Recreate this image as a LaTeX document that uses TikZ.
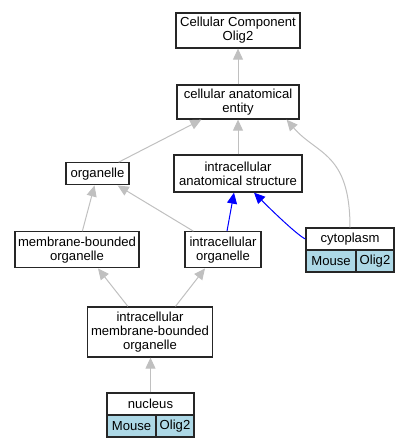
\documentclass[tikz,border=0pt]{standalone}
\usepackage{fontspec}
\setmainfont{Liberation Sans}
\usetikzlibrary{arrows.meta}
\definecolor{edgegrey}{HTML}{C0C0C0}
\definecolor{cellblue}{HTML}{ADD8E6}
\begin{document}
\begin{tikzpicture}[x=1pt,y=-1pt,
  box/.style={draw=black!85, line width=1.3pt, fill=white, inner sep=0pt, align=center, font=\fontsize{13.1}{14}\selectfont, text=black},
  cell/.style={box, fill=cellblue},
  gedge/.style={draw=edgegrey, line width=1pt, -{Triangle[length=11pt,width=10pt]}},
  bedge/.style={draw=blue, line width=1pt, -{Triangle[length=11pt,width=10pt]}}]
\useasboundingbox (0,0) rectangle (411,448);
\node[box, minimum width=124pt, minimum height=35pt] (cc) at (238,30.5) {Cellular Component\\Olig2};
\node[box, minimum width=122pt, minimum height=34pt] (cae) at (238,102) {cellular anatomical\\entity};
\node[box, minimum width=128pt, minimum height=37pt] (ias) at (238,173.5) {intracellular\\anatomical structure};
\node[box, minimum width=63pt, minimum height=22pt] (org) at (97.5,173.8) {organelle};
\node[box, minimum width=124pt, minimum height=36pt] (mbo) at (77,249.8) {membrane-bounded\\organelle};
\node[box, minimum width=76pt, minimum height=36pt] (io) at (223,249.8) {intracellular\\organelle};
\node[box, minimum width=88pt, minimum height=22pt] (cyto) at (350,239) {cytoplasm};
\node[cell, minimum width=50pt, minimum height=22pt] (cytoM) at (331,261) {Mouse};
\node[cell, minimum width=38pt, minimum height=22pt] (cytoO) at (375,261) {Olig2};
\node[box, minimum width=125pt, minimum height=50pt] (imbo) at (150,332) {intracellular\\membrane-bounded\\organelle};
\node[box, minimum width=87pt, minimum height=22pt] (nuc) at (150.5,404) {nucleus};
\node[cell, minimum width=49pt, minimum height=22pt] (nucM) at (131.5,426) {Mouse};
\node[cell, minimum width=38pt, minimum height=22pt] (nucO) at (175,426) {Olig2};

\draw[gedge] (cae) -- (cc);
\draw[gedge] ([xshift=-11pt]org.north east) -- ([xshift=25pt]cae.south west);
\draw[gedge] (ias) -- (cae);
\draw[gedge] (cyto.north) .. controls +(0,-75) and +(30,35) .. ([xshift=-13pt]cae.south east);
\draw[gedge] ([xshift=68pt]mbo.north west) -- ([xshift=-3pt]org.south);
\draw[gedge] ([xshift=9pt]io.north west) -- ([xshift=-12pt]org.south east);
\draw[bedge] ([xshift=4pt]io.north) -- ([xshift=-4pt]ias.south);
\draw[bedge] (cyto.west) .. controls +(-8,-4) and +(20,20) .. ([xshift=16pt]ias.south);
\draw[gedge] ([xshift=41pt]imbo.north west) -- ([xshift=21pt]mbo.south);
\draw[gedge] ([xshift=25.5pt]imbo.north) -- ([xshift=-18pt]io.south);
\draw[gedge] (nuc.north) -- (nuc.north |- imbo.south);
\end{tikzpicture}
\end{document}
